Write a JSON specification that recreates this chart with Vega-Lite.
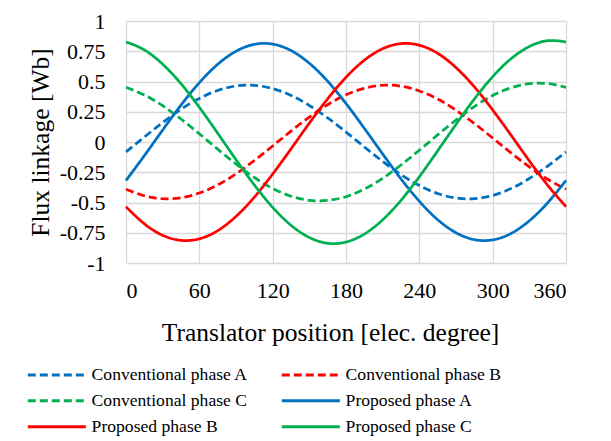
{
  "$schema": "https://vega.github.io/schema/vega-lite/v6.json",
  "width": 440,
  "height": 242,
  "autosize": {"type": "none"},
  "padding": {"left": 126, "top": 21, "right": 45, "bottom": 178},
  "background": "#ffffff",
  "data": {"values": [
    {"series":"Conventional phase A","x":0,"y":-0.082},{"series":"Conventional phase A","x":15,"y":0.041},{"series":"Conventional phase A","x":30,"y":0.161},{"series":"Conventional phase A","x":45,"y":0.270},{"series":"Conventional phase A","x":60,"y":0.360},{"series":"Conventional phase A","x":75,"y":0.426},{"series":"Conventional phase A","x":90,"y":0.463},{"series":"Conventional phase A","x":105,"y":0.468},{"series":"Conventional phase A","x":120,"y":0.442},{"series":"Conventional phase A","x":135,"y":0.385},{"series":"Conventional phase A","x":150,"y":0.302},{"series":"Conventional phase A","x":165,"y":0.199},{"series":"Conventional phase A","x":180,"y":0.082},{"series":"Conventional phase A","x":195,"y":-0.041},{"series":"Conventional phase A","x":210,"y":-0.161},{"series":"Conventional phase A","x":225,"y":-0.270},{"series":"Conventional phase A","x":240,"y":-0.360},{"series":"Conventional phase A","x":255,"y":-0.426},{"series":"Conventional phase A","x":270,"y":-0.463},{"series":"Conventional phase A","x":285,"y":-0.468},{"series":"Conventional phase A","x":300,"y":-0.442},{"series":"Conventional phase A","x":315,"y":-0.385},{"series":"Conventional phase A","x":330,"y":-0.302},{"series":"Conventional phase A","x":345,"y":-0.199},{"series":"Conventional phase A","x":360,"y":-0.082},
    {"series":"Conventional phase B","x":0,"y":-0.390},{"series":"Conventional phase B","x":15,"y":-0.444},{"series":"Conventional phase B","x":30,"y":-0.469},{"series":"Conventional phase B","x":45,"y":-0.461},{"series":"Conventional phase B","x":60,"y":-0.422},{"series":"Conventional phase B","x":75,"y":-0.355},{"series":"Conventional phase B","x":90,"y":-0.263},{"series":"Conventional phase B","x":105,"y":-0.153},{"series":"Conventional phase B","x":120,"y":-0.033},{"series":"Conventional phase B","x":135,"y":0.090},{"series":"Conventional phase B","x":150,"y":0.206},{"series":"Conventional phase B","x":165,"y":0.308},{"series":"Conventional phase B","x":180,"y":0.390},{"series":"Conventional phase B","x":195,"y":0.444},{"series":"Conventional phase B","x":210,"y":0.469},{"series":"Conventional phase B","x":225,"y":0.461},{"series":"Conventional phase B","x":240,"y":0.422},{"series":"Conventional phase B","x":255,"y":0.355},{"series":"Conventional phase B","x":270,"y":0.263},{"series":"Conventional phase B","x":285,"y":0.153},{"series":"Conventional phase B","x":300,"y":0.033},{"series":"Conventional phase B","x":315,"y":-0.090},{"series":"Conventional phase B","x":330,"y":-0.206},{"series":"Conventional phase B","x":345,"y":-0.308},{"series":"Conventional phase B","x":360,"y":-0.390},
    {"series":"Conventional phase C","x":0,"y":0.452},{"series":"Conventional phase C","x":15,"y":0.389},{"series":"Conventional phase C","x":30,"y":0.300},{"series":"Conventional phase C","x":45,"y":0.190},{"series":"Conventional phase C","x":60,"y":0.068},{"series":"Conventional phase C","x":75,"y":-0.059},{"series":"Conventional phase C","x":90,"y":-0.182},{"series":"Conventional phase C","x":105,"y":-0.293},{"series":"Conventional phase C","x":120,"y":-0.384},{"series":"Conventional phase C","x":135,"y":-0.448},{"series":"Conventional phase C","x":150,"y":-0.482},{"series":"Conventional phase C","x":165,"y":-0.483},{"series":"Conventional phase C","x":180,"y":-0.452},{"series":"Conventional phase C","x":195,"y":-0.389},{"series":"Conventional phase C","x":210,"y":-0.300},{"series":"Conventional phase C","x":225,"y":-0.190},{"series":"Conventional phase C","x":240,"y":-0.068},{"series":"Conventional phase C","x":255,"y":0.059},{"series":"Conventional phase C","x":270,"y":0.182},{"series":"Conventional phase C","x":285,"y":0.293},{"series":"Conventional phase C","x":300,"y":0.384},{"series":"Conventional phase C","x":315,"y":0.448},{"series":"Conventional phase C","x":330,"y":0.482},{"series":"Conventional phase C","x":345,"y":0.483},{"series":"Conventional phase C","x":360,"y":0.452},
    {"series":"Proposed phase A","x":0,"y":-0.318},{"series":"Proposed phase A","x":15,"y":-0.113},{"series":"Proposed phase A","x":30,"y":0.099},{"series":"Proposed phase A","x":45,"y":0.305},{"series":"Proposed phase A","x":60,"y":0.490},{"series":"Proposed phase A","x":75,"y":0.642},{"series":"Proposed phase A","x":90,"y":0.750},{"series":"Proposed phase A","x":105,"y":0.807},{"series":"Proposed phase A","x":120,"y":0.809},{"series":"Proposed phase A","x":135,"y":0.756},{"series":"Proposed phase A","x":150,"y":0.651},{"series":"Proposed phase A","x":165,"y":0.502},{"series":"Proposed phase A","x":180,"y":0.318},{"series":"Proposed phase A","x":195,"y":0.113},{"series":"Proposed phase A","x":210,"y":-0.099},{"series":"Proposed phase A","x":225,"y":-0.305},{"series":"Proposed phase A","x":240,"y":-0.490},{"series":"Proposed phase A","x":255,"y":-0.642},{"series":"Proposed phase A","x":270,"y":-0.750},{"series":"Proposed phase A","x":285,"y":-0.807},{"series":"Proposed phase A","x":300,"y":-0.809},{"series":"Proposed phase A","x":315,"y":-0.756},{"series":"Proposed phase A","x":330,"y":-0.651},{"series":"Proposed phase A","x":345,"y":-0.502},{"series":"Proposed phase A","x":360,"y":-0.318},
    {"series":"Proposed phase B","x":0,"y":-0.535},{"series":"Proposed phase B","x":15,"y":-0.676},{"series":"Proposed phase B","x":30,"y":-0.771},{"series":"Proposed phase B","x":45,"y":-0.813},{"series":"Proposed phase B","x":60,"y":-0.800},{"series":"Proposed phase B","x":75,"y":-0.733},{"series":"Proposed phase B","x":90,"y":-0.615},{"series":"Proposed phase B","x":105,"y":-0.456},{"series":"Proposed phase B","x":120,"y":-0.265},{"series":"Proposed phase B","x":135,"y":-0.057},{"series":"Proposed phase B","x":150,"y":0.156},{"series":"Proposed phase B","x":165,"y":0.357},{"series":"Proposed phase B","x":180,"y":0.535},{"series":"Proposed phase B","x":195,"y":0.676},{"series":"Proposed phase B","x":210,"y":0.771},{"series":"Proposed phase B","x":225,"y":0.813},{"series":"Proposed phase B","x":240,"y":0.800},{"series":"Proposed phase B","x":255,"y":0.733},{"series":"Proposed phase B","x":270,"y":0.615},{"series":"Proposed phase B","x":285,"y":0.456},{"series":"Proposed phase B","x":300,"y":0.265},{"series":"Proposed phase B","x":315,"y":0.057},{"series":"Proposed phase B","x":330,"y":-0.156},{"series":"Proposed phase B","x":345,"y":-0.357},{"series":"Proposed phase B","x":360,"y":-0.535},
    {"series":"Proposed phase C","x":0,"y":0.827},{"series":"Proposed phase C","x":15,"y":0.761},{"series":"Proposed phase C","x":30,"y":0.643},{"series":"Proposed phase C","x":45,"y":0.482},{"series":"Proposed phase C","x":60,"y":0.287},{"series":"Proposed phase C","x":75,"y":0.073},{"series":"Proposed phase C","x":90,"y":-0.146},{"series":"Proposed phase C","x":105,"y":-0.355},{"series":"Proposed phase C","x":120,"y":-0.540},{"series":"Proposed phase C","x":135,"y":-0.688},{"series":"Proposed phase C","x":150,"y":-0.789},{"series":"Proposed phase C","x":165,"y":-0.837},{"series":"Proposed phase C","x":180,"y":-0.827},{"series":"Proposed phase C","x":195,"y":-0.761},{"series":"Proposed phase C","x":210,"y":-0.643},{"series":"Proposed phase C","x":225,"y":-0.482},{"series":"Proposed phase C","x":240,"y":-0.287},{"series":"Proposed phase C","x":255,"y":-0.073},{"series":"Proposed phase C","x":270,"y":0.146},{"series":"Proposed phase C","x":285,"y":0.355},{"series":"Proposed phase C","x":300,"y":0.540},{"series":"Proposed phase C","x":315,"y":0.688},{"series":"Proposed phase C","x":330,"y":0.789},{"series":"Proposed phase C","x":345,"y":0.837},{"series":"Proposed phase C","x":360,"y":0.827}
  ]},
  "mark": {"type": "line", "strokeWidth": 2.75, "interpolate": "natural", "clip": false},
  "encoding": {
    "x": {
      "field": "x", "type": "quantitative",
      "scale": {"domain": [0, 360], "nice": false, "zero": false},
      "axis": {"values": [0, 60, 120, 180, 240, 300, 360], "title": "Translator position [elec. degree]", "labelPadding": 17, "titlePadding": 19, "titleX": 204}
    },
    "y": {
      "field": "y", "type": "quantitative",
      "scale": {"domain": [-1, 1], "nice": false},
      "axis": {"values": [-1, -0.75, -0.5, -0.25, 0, 0.25, 0.5, 0.75, 1], "labelExpr": "datum.value + ''", "title": "Flux linkage [Wb]", "labelPadding": 21, "titlePadding": 6}
    },
    "color": {
      "field": "series", "type": "nominal", "title": null,
      "scale": {
        "domain": ["Conventional phase A", "Conventional phase C", "Proposed phase B", "Conventional phase B", "Proposed phase A", "Proposed phase C"],
        "range": ["#0070C0", "#00B050", "#FF0000", "#FF0000", "#0070C0", "#00B050"]
      }
    },
    "strokeDash": {
      "field": "series", "type": "nominal", "title": null,
      "scale": {
        "domain": ["Conventional phase A", "Conventional phase C", "Proposed phase B", "Conventional phase B", "Proposed phase A", "Proposed phase C"],
        "range": [[8, 4], [8, 4], [1, 0], [8, 4], [1, 0], [1, 0]]
      }
    }
  },
  "config": {
    "font": "Liberation Serif",
    "view": {"stroke": null},
    "axis": {
      "labelFont": "Liberation Serif", "titleFont": "Liberation Serif",
      "labelFontSize": 22, "titleFontSize": 25.5, "titleFontWeight": "normal",
      "labelColor": "#000000", "titleColor": "#000000",
      "gridColor": "#d9d9d9", "gridWidth": 1.3,
      "domain": false, "ticks": false, "tickSize": 0
    },
    "legend": {
      "orient": "none", "legendX": -98, "legendY": 345,
      "columns": 2, "symbolType": "M-5.8,0H5.8", "symbolSize": 100, "symbolStrokeWidth": 3,
      "symbolOffset": 20, "labelOffset": 26,
      "labelFont": "Liberation Serif", "labelFontSize": 17.6, "labelColor": "#000000", "labelLimit": 0,
      "columnPadding": 27, "rowPadding": 7, "padding": 0
    }
  }
}
